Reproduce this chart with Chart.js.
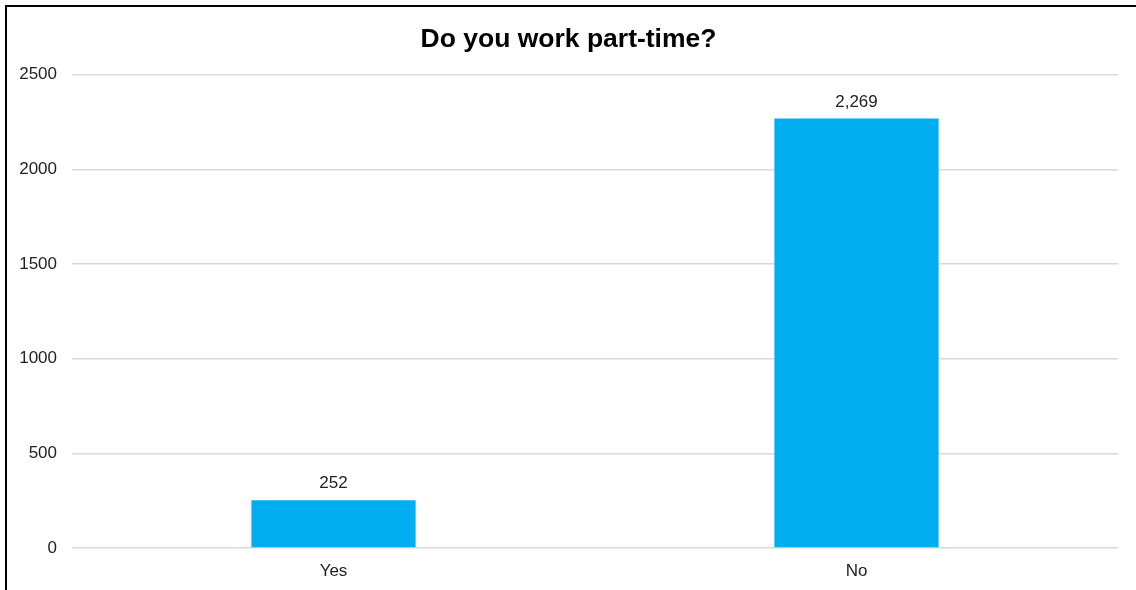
<!DOCTYPE html>
<html>
<head>
<meta charset="utf-8">
<script src="https://cdn.jsdelivr.net/npm/chart.js@4"></script>
<style>
  html, body { margin: 0; padding: 0; overflow: hidden; background: #fff; }
  #wrap { position: absolute; left: 0; top: 0; width: 1136px; height: 590px; }
  #moldura { position: absolute; left: 5px; top: 5px; width: 1200px; height: 700px;
             border: 2px solid #000; pointer-events: none; }
</style>
</head>
<body>
<div id="wrap"><canvas id="grafico"></canvas></div>
<div id="moldura"></div>
<script>
// dados do gráfico
const categorias = ["Yes", "No"];
const respostas = [252, 2269];
const ticksY = [0, 500, 1000, 1500, 2000, 2500];

// escreve o valor em cima de cada barra
const rotulosBarras = {
  id: "rotulosBarras",
  afterDatasetsDraw(chart) {
    const ctx = chart.ctx;
    const meta = chart.getDatasetMeta(0);
    ctx.save();
    ctx.font = "17px 'Liberation Sans', Arial, sans-serif";
    ctx.fillStyle = "#222";
    ctx.textAlign = "center";
    ctx.textBaseline = "bottom";
    meta.data.forEach((barra, i) => {
      ctx.fillText(respostas[i].toLocaleString("en-US"), barra.x, barra.y - 8);
    });
    ctx.restore();
  }
};

const ctx = document.getElementById("grafico").getContext("2d");
const grafico = new Chart(ctx, {
  type: "bar",
  data: {
    labels: categorias,
    datasets: [{
      data: respostas,
      backgroundColor: "#00AEEF",
      borderWidth: 0,
      barPercentage: 0.314,
      categoryPercentage: 1
    }]
  },
  options: {
    responsive: false,
    maintainAspectRatio: false,
    animation: false,
    layout: { padding: { left: 19, right: 18, top: 12, bottom: 8 } },
    plugins: {
      legend: { display: false },
      tooltip: { enabled: false },
      title: {
        display: true,
        text: "Do you work part-time?",
        color: "#000",
        font: { family: "'Liberation Sans', Arial, sans-serif", size: 26.5, weight: "bold" },
        padding: { top: 12, bottom: 19 }
      }
    },
    scales: {
      x: {
        grid: { display: false, drawTicks: false },
        border: { display: false },
        afterFit: (eixo) => { eixo.height = 34; },
        ticks: {
          color: "#222",
          padding: 13,
          font: { family: "'Liberation Sans', Arial, sans-serif", size: 17 }
        }
      },
      y: {
        min: ticksY[0],
        max: ticksY[ticksY.length - 1],
        afterBuildTicks: (eixo) => { eixo.ticks = ticksY.map(v => ({ value: v })); },
        afterFit: (eixo) => { eixo.width = 53; },
        grid: { color: "#d9d9d9", lineWidth: 1.5, drawTicks: false },
        border: { display: false },
        ticks: {
          color: "#222",
          padding: 15,
          font: { family: "'Liberation Sans', Arial, sans-serif", size: 17 },
          callback: (v) => String(v)
        }
      }
    }
  },
  plugins: [rotulosBarras]
});
// tamanho fixo da janela
grafico.resize(1136, 590);
</script>
</body>
</html>
